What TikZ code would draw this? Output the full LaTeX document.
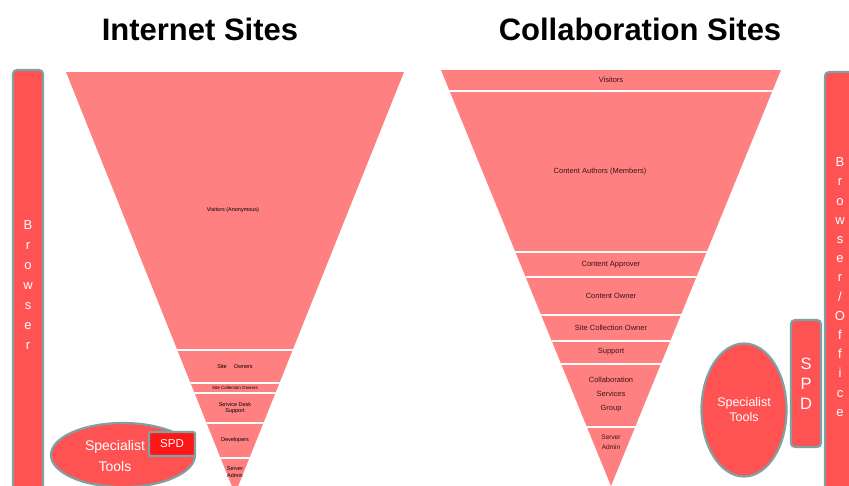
\documentclass[tikz,border=0pt]{standalone}
\usepackage{fontspec}
\setmainfont{Liberation Sans}
\usetikzlibrary{shapes.geometric}
\definecolor{barred}{RGB}{255,82,82}
\definecolor{spdred}{RGB}{255,22,22}
\definecolor{edgegray}{RGB}{128,160,162}
\definecolor{funnelpink}{RGB}{255,128,128}
\definecolor{labeldark}{RGB}{60,20,20}

\begin{document}
\begin{tikzpicture}[x=1pt, y=-1pt]
			% Define styles
			\tikzstyle{title} = [font=\fontsize{31}{34}\selectfont\bfseries, text=black]
			\tikzstyle{bar} = [rectangle, rounded corners=4pt, draw=edgegray, line width=2.2pt, fill=barred, text=white, align=center, inner sep=0pt]
			\tikzstyle{tool} = [ellipse, draw=edgegray, line width=2.2pt, fill=barred, text=white, align=center, inner sep=0pt, font=\fontsize{12.5}{15}\selectfont]
			\tikzstyle{layer} = [text=labeldark, align=center, font=\fontsize{7.5}{8.5}\selectfont]
			\tikzstyle{smalllayer} = [text=black, align=center, font=\fontsize{5.5}{6.5}\selectfont]
			\tikzstyle{sep} = [white, line width=1.6pt]

			\clip (0,0) rectangle (849,485);

			% Titles
			\node (inettitle) [title] at (200,29) {Internet Sites};
			\node (collabtitle) [title] at (640,29) {Collaboration Sites};

			% Side bars
			\node (browserbar) [bar, minimum width=30pt, minimum height=430pt, font=\fontsize{13}{20}\selectfont] at (28,285) {B\\r\\o\\w\\s\\e\\r};
			\node (officebar) [bar, minimum width=30pt, minimum height=430pt, font=\fontsize{13}{19.2}\selectfont] at (840,287) {B\\r\\o\\w\\s\\e\\r\\/\\O\\f\\f\\i\\c\\e};

			% Internet funnel
			\begin{scope}
				\clip (66,72) -- (404,72) -- (235,494) -- cycle;
				\fill [funnelpink] (60,70) rectangle (410,490);
				\foreach \ly in {350,383,393,423,458}
					\draw [sep] (60,\ly) -- (410,\ly);
			\end{scope}
			\node (inetvisitors) [smalllayer] at (233,210) {Visitors (Anonymous)};
			\node (inetowners) [smalllayer] at (235,367) {Site \quad Owners};
			\node (inetcollection) [smalllayer, font=\fontsize{4.5}{5}\selectfont] at (235,388) {Site Collection Owners};
			\node (inetsupport) [smalllayer] at (235,408) {Service Desk\\Support};
			\node (inetdev) [smalllayer] at (235,440) {Developers};
			\node (inetadmin) [smalllayer] at (235,472) {Server\\Admin};

			% Collaboration funnel
			\begin{scope}
				\clip (441,70) -- (781,70) -- (611,486) -- cycle;
				\fill [funnelpink] (435,65) rectangle (790,490);
				\foreach \ly in {91,252,277,315,341,364,427}
					\draw [sep] (435,\ly) -- (790,\ly);
			\end{scope}
			\node (colvisitors) [layer] at (611,80) {Visitors};
			\node (colauthors) [layer] at (600,172) {Content Authors (Members)};
			\node (colapprover) [layer] at (611,265) {Content Approver};
			\node (colowner) [layer] at (611,296) {Content Owner};
			\node (colcollection) [layer] at (611,328) {Site Collection Owner};
			\node (colsupport) [layer] at (611,352) {Support};
			\node (colgroup) [layer, font=\fontsize{7.5}{14}\selectfont] at (611,395) {Collaboration\\Services\\Group};
			\node (coladmin) [layer, font=\fontsize{6.5}{10}\selectfont] at (611,442) {Server\\Admin};

			% Specialist tools
			\node (inettools) [tool, minimum width=144pt, minimum height=64pt] at (123,455) {};
			\node (inettoolstext) [text=white, align=center, font=\fontsize{14}{21}\selectfont] at (115,456) {Specialist\\Tools};
			\node (inetspd) [bar, fill=spdred, rounded corners=2pt, minimum width=46pt, minimum height=24pt, font=\fontsize{11.5}{13}\selectfont] at (172,444) {SPD};
			\node (coltools) [tool, minimum width=85pt, minimum height=133pt] at (744,410) {Specialist\\Tools};
			\node (colspd) [bar, minimum width=30pt, minimum height=127pt, font=\fontsize{16.5}{20}\selectfont] at (806,383.5) {S\\P\\D};
		\end{tikzpicture}
\end{document}
